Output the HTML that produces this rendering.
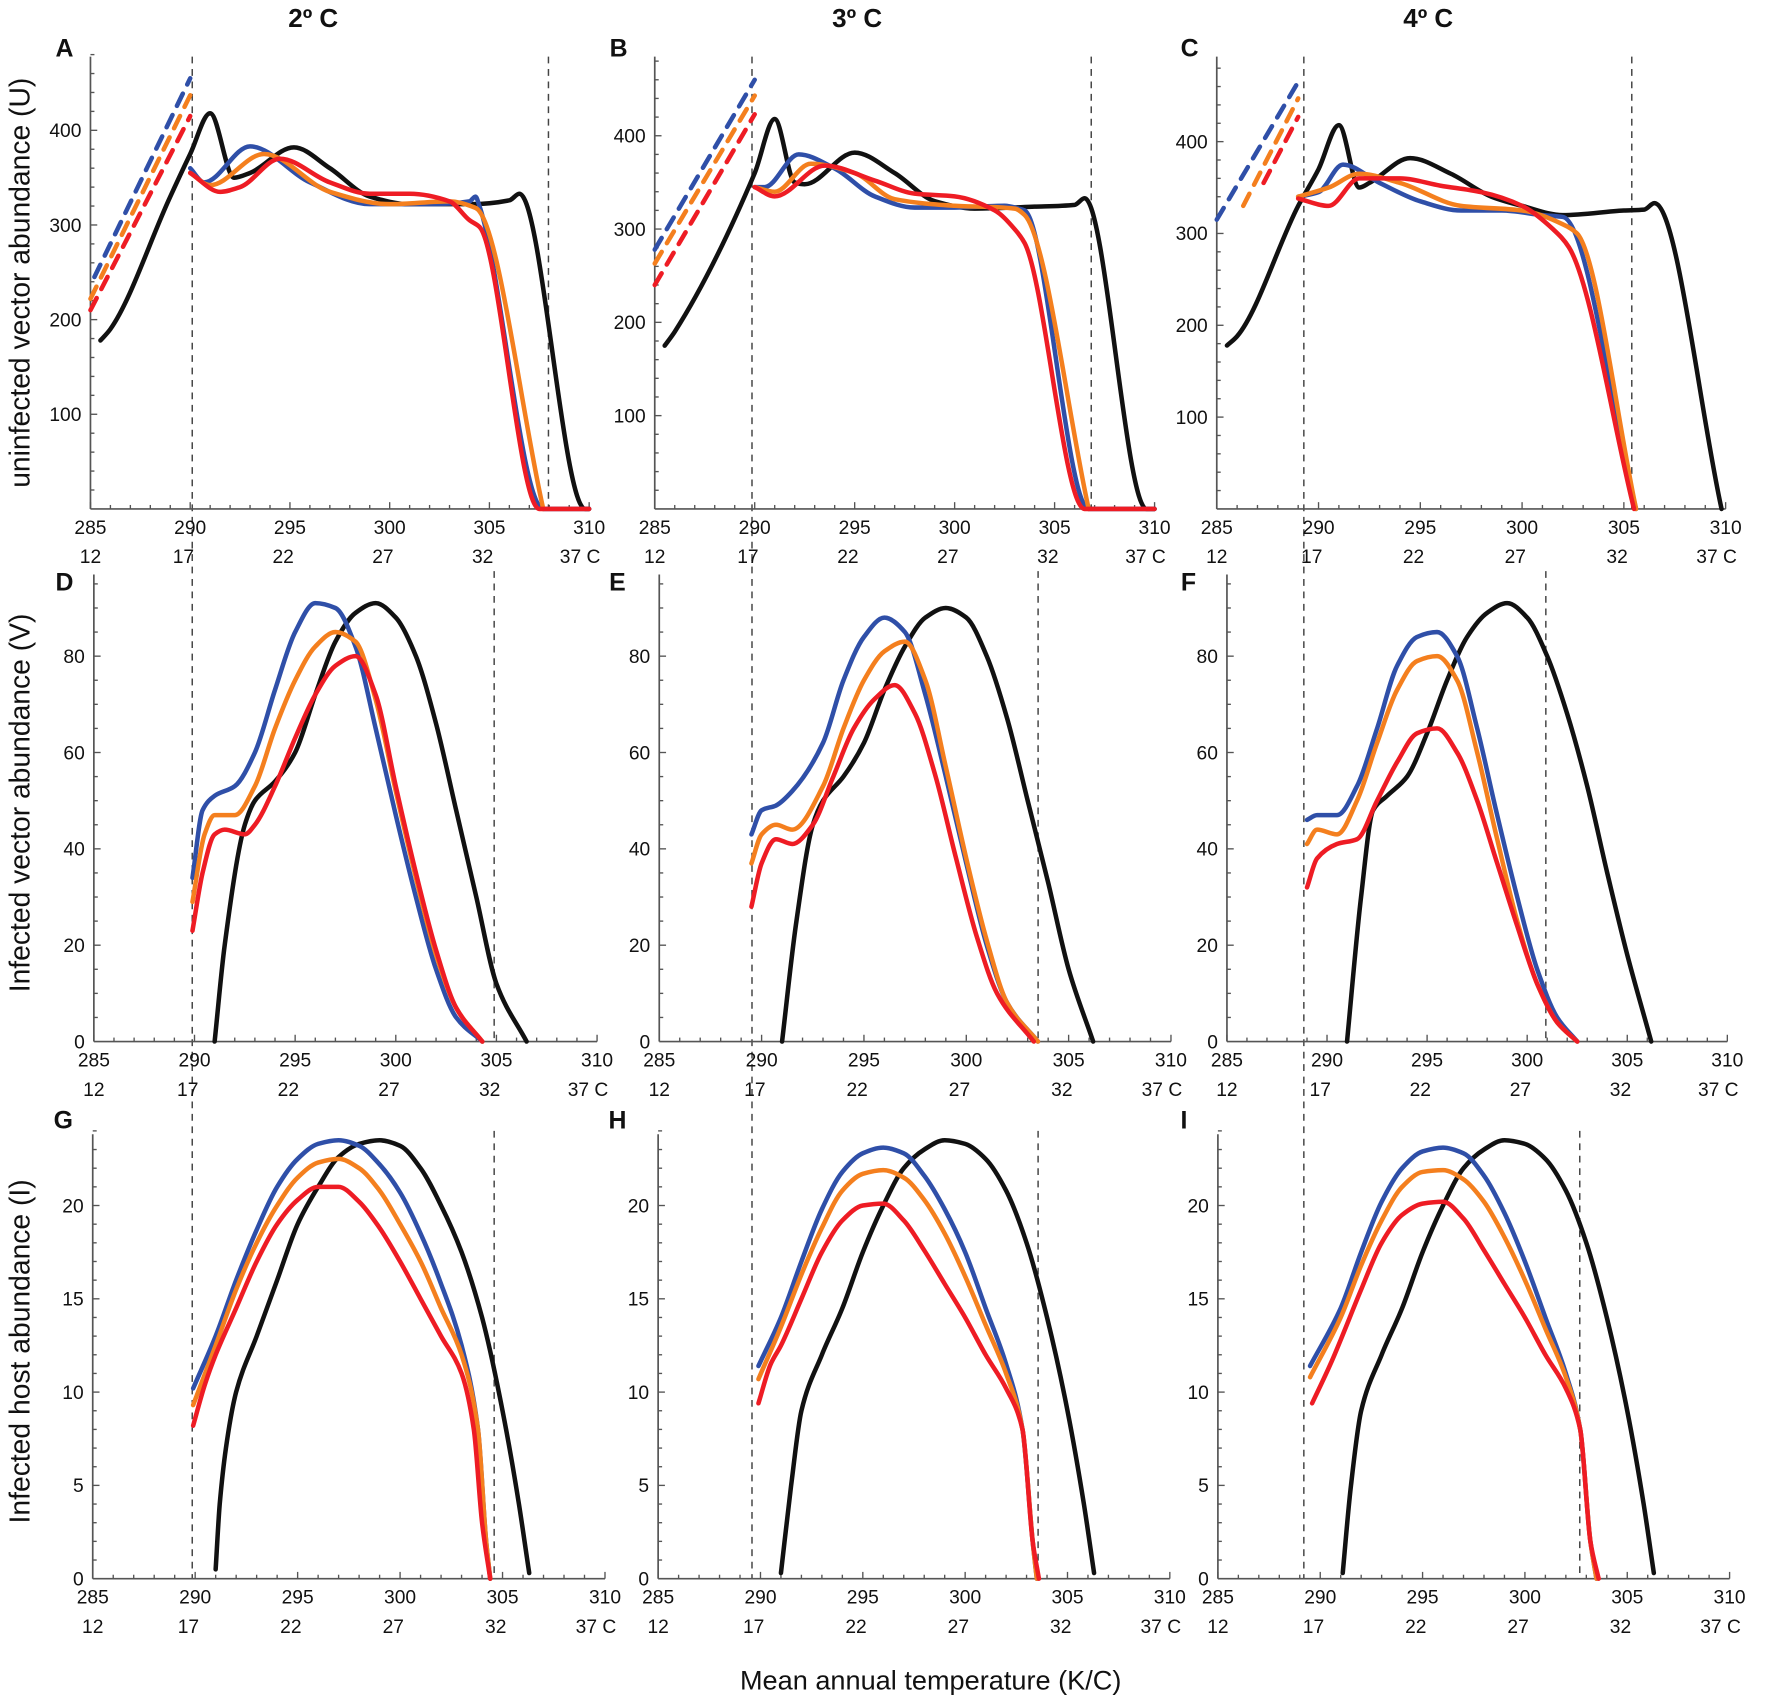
<!DOCTYPE html>
<html><head><meta charset="utf-8"><style>
html,body{margin:0;padding:0;background:#fff;}
svg{display:block;font-family:"Liberation Sans",Arial,sans-serif;}
</style></head><body>
<svg id="chart" width="1772" height="1702" viewBox="0 0 1567 1505" xmlns="http://www.w3.org/2000/svg">
<g id="layer"></g>
</svg>
<script>
// ---- data (temperature K, value) ----
const A_black=[[285.5,178],[286,190],[289,330],[290,375],[291,418],[292.2,350],[293,355],[295.2,382],[297,360],[299,330],[301,322],[304,322],[306,326],[306.5,333],[309.8,0],[310,0]];
const A_blue_dot=[[285.2,245],[290,455]];
const A_blue=[[290,360],[290.7,345],[293,383],[296,345],[299,322],[302,322],[304,325],[304.3,330],[304.5,320],[307.7,0],[310,0]];
const A_orange_dot=[[285,222],[290,437]];
const A_orange=[[290,355],[291,342],[293.7,375],[297,335],[300,322],[303,325],[304.3,318],[307.7,0]];
const A_red_dot=[[285,210],[290,415]];
const A_red=[[290,355],[291.5,335],[292.5,340],[294.5,370],[297,345],[299,333],[301,333],[303,325],[304,305],[304.5,298],[307.5,0],[310,0]];

const B_black=[[285.5,175],[286,190],[290,360],[291,418],[292,350],[292.5,348],[295,382],[297,360],[299,330],[301,322],[304,324],[306,326],[306.5,333],[309.6,0],[310,0]];
const B_blue_dot=[[285,278],[290,460]];
const B_blue=[[290,345],[290.5,345],[292.2,380],[294,365],[296,335],[298,323],[300,323],[302.5,325],[303.2,322],[303.5,320],[306.7,0],[310,0]];
const B_orange_dot=[[285,263],[290,443]];
const B_orange=[[290,345],[291,340],[292.8,370],[295,360],[297,332],[300,325],[303,322],[303.5,315],[306.7,0]];
const B_red_dot=[[285,240],[290,423]];
const B_red=[[290,345],[291,335],[293.5,368],[296,352],[298,338],[300,335],[302,320],[303,300],[303.5,285],[306.5,0],[310,0]];

const C_black=[[285.5,178],[286,188],[289,330],[290,370],[291,418],[292,350],[292.5,355],[294.5,382],[296.5,365],[298.5,340],[300,330],[302,320],[305,325],[306,326],[306.5,333],[309.8,0]];
const C_blue_dot=[[285,315],[289,465]];
const C_blue=[[289,340],[290,345],[291.2,375],[293,355],[295,335],[297,325],[299,325],[301,320],[302,318],[305.6,0]];
const C_orange_dot=[[286.3,330],[289,447]];
const C_orange=[[289,340],[290.5,350],[292,365],[294,355],[297,330],[300,325],[302,310],[302.7,300],[305.6,0]];
const C_red_dot=[[287.3,355],[289,427]];
const C_red=[[289,338],[290.5,330],[292,360],[294,360],[296,352],[298,345],[300,330],[301.5,305],[302.3,285],[305.5,0]];

const D_black=[[291,0],[291.5,20],[292.5,45],[293,50],[294,54],[295,60],[296,72],[297,83],[298,89],[299,91],[300,88],[301,80],[302,66],[303,48],[304,30],[305,12],[306.5,0]];
const D_blue=[[289.9,34],[290.4,48],[291,51],[292,53],[293,60],[294,73],[295,85],[296,91],[297,90],[298,82],[299,65],[300,47],[301,30],[302,15],[303,5],[304.3,0]];
const D_orange=[[289.9,29],[290.5,43],[291,47],[292,47],[293,53],[294,65],[295,75],[296,82],[297,85],[298,83],[299,71],[300,52],[301,34],[302,18],[303,7],[304.3,0]];
const D_red=[[289.9,23],[290.4,35],[291,43],[291.5,44],[292.5,43],[293,45],[294,53],[295,63],[296,72],[297,78],[298,80],[299,72],[300,53],[301,35],[302,19],[303,7],[304.3,0]];

const E_black=[[291,0],[291.7,25],[292.5,45],[293,50],[294,55],[295,62],[296,73],[297,82],[298,88],[299,90],[300,88],[301,80],[302,67],[303,50],[304,33],[305,15],[306.2,0]];
const E_blue=[[289.5,43],[290,48],[290.7,49],[291.5,52],[293,62],[294,75],[295,84],[296,88],[297,85],[298,72],[299,55],[300,37],[301,20],[302,8],[303.5,0]];
const E_orange=[[289.5,37],[290,43],[290.7,45],[291.5,44],[293,53],[294,65],[295,75],[296,81],[297,83],[298,75],[299,57],[300,38],[301,21],[302,8],[303.5,0]];
const E_red=[[289.5,28],[290,37],[290.7,42],[291.5,41],[292.5,45],[293.5,55],[294.5,65],[295.5,71],[296.5,74],[297.5,68],[298.5,55],[299.5,38],[300.5,22],[301.5,10],[303.3,0]];

const F_black=[[291,0],[291.7,30],[292.3,48],[293,51],[294,55],[295,64],[296,75],[297,84],[298,89],[299,91],[300,88],[301,80],[302,68],[303,53],[304,35],[305,18],[306.2,0]];
const F_blue=[[289,46],[289.5,47],[290.5,47],[291.5,53],[292.5,65],[293.5,78],[294.5,84],[295.5,85],[296.5,80],[297.5,65],[298.5,47],[299.5,30],[300.5,15],[301.5,5],[302.5,0]];
const F_orange=[[289,41],[289.5,44],[290.5,43],[291.5,50],[292.5,62],[293.5,73],[294.5,79],[295.5,80],[296.5,75],[297.5,60],[298.5,42],[299.5,25],[300.5,12],[301.5,4],[302.5,0]];
const F_red=[[289,32],[289.5,38],[290.5,41],[291.5,42],[292.5,50],[293.5,58],[294.5,64],[295.5,65],[296.5,60],[297.5,50],[298.5,37],[299.5,24],[300.5,12],[301.5,4],[302.5,0]];

const G_black=[[291,0.5],[291.2,4],[291.5,7],[292,10],[293,13],[294,16],[295,19],[296,21],[297,22.6],[298,23.3],[299,23.5],[300,23.2],[301,22],[302,20],[303,17.5],[304,14],[305,9],[305.8,4],[306.3,0.3]];
const G_blue=[[289.9,10.2],[291,13],[292,16],[293,18.7],[294,21],[295,22.5],[296,23.3],[297,23.5],[298,23.2],[299,22.2],[300,20.7],[301,18.5],[302,15.8],[303,12.5],[303.8,8],[304.2,2],[304.4,0]];
const G_orange=[[289.9,9.3],[291,12.5],[292,15.5],[293,18],[294,20],[295,21.5],[296,22.3],[297,22.5],[298,22],[299,20.8],[300,19],[301,17],[302,14.5],[303,12],[303.8,8],[304.2,2],[304.4,0]];
const G_red=[[289.9,8.2],[290.5,10.5],[291,12],[292,14.5],[293,17],[294,19],[295,20.3],[296,21],[297,21],[298,20.2],[299,18.8],[300,17],[301,15],[302,13],[303,11],[303.6,8],[304,3],[304.4,0]];

const H_black=[[291,0.3],[291.5,5],[292,9],[293,12],[294,14.5],[295,17.5],[296,20],[297,22],[298,23],[299,23.5],[300,23.3],[301,22.5],[302,20.8],[303,18],[304,14],[305,9],[305.8,4],[306.3,0.3]];
const H_blue=[[289.9,11.4],[291,14],[292,17],[293,19.8],[294,21.8],[295,22.8],[296,23.1],[297,22.8],[298,21.6],[299,19.8],[300,17.5],[301,14.5],[302,11.5],[302.8,8],[303.3,2],[303.5,0]];
const H_orange=[[289.9,10.7],[291,13.5],[292,16.3],[293,18.8],[294,20.8],[295,21.7],[296,21.9],[297,21.5],[298,20.3],[299,18.5],[300,16.2],[301,13.6],[302,11],[302.8,8],[303.3,2],[303.5,0]];
const H_red=[[289.9,9.4],[290.5,11.5],[291,12.5],[292,15],[293,17.5],[294,19.2],[295,20],[296,20.1],[297,19.2],[298,17.6],[299,15.8],[300,14],[301,12],[302,10.2],[302.8,8],[303.3,2],[303.6,0]];

const I_black=[[291.1,0.3],[291.5,5],[292,9],[293,12],[294,14.5],[295,17.5],[296,20],[297,22],[298,23],[299,23.5],[300,23.3],[301,22.5],[302,20.8],[303,18],[304,14],[305,9],[305.8,4],[306.3,0.3]];
const I_blue=[[289.5,11.4],[291,14.5],[292,17.5],[293,20.2],[294,22],[295,22.9],[296,23.1],[297,22.8],[298,21.6],[299,19.6],[300,17],[301,14],[302,11],[302.7,8],[303.2,2],[303.5,0]];
const I_orange=[[289.5,10.8],[291,14],[292,16.8],[293,19.2],[294,21],[295,21.8],[296,21.9],[297,21.4],[298,20.2],[299,18.3],[300,16],[301,13.4],[302,10.8],[302.7,8],[303.2,2],[303.5,0]];
const I_red=[[289.6,9.4],[290.5,11.5],[291,12.8],[292,15.5],[293,18],[294,19.5],[295,20.1],[296,20.2],[297,19.3],[298,17.6],[299,15.8],[300,14],[301,12],[302,10.2],[302.7,8],[303.2,2],[303.6,0]];

const kTicks=[285,290,295,300,305,310];
const cTicks=["12","17","22","27","32","37 C"];
const uTicks=[100,200,300,400];
const vTicks=[0,20,40,60,80];
const iTicks=[0,5,10,15,20];
const colTitles=["2º C","3º C","4º C"];
const rowTitles=["uninfected vector abundance (U)","Infected vector abundance (V)","Infected host abundance (I)"];

// ---- layout ----
const NS="http://www.w3.org/2000/svg";
const layer=document.getElementById('layer');
const COL={black:"#111",blue:"#2f4fa8",orange:"#f47f1e",red:"#ee1c24"};
const panels=[
 {id:"A",x0:80,kx:17.64,y0:450,ky:0.837,top:50,ymax:480,yt:uTicks,minor:20,ser:{black:A_black,blue:A_blue,orange:A_orange,red:A_red},dots:{blue:A_blue_dot,orange:A_orange_dot,red:A_red_dot},lx:57,ly:50,dash2:485,d2top:50},
 {id:"B",x0:579,kx:17.68,y0:450,ky:0.825,top:50,ymax:485,yt:uTicks,minor:20,ser:{black:B_black,blue:B_blue,orange:B_orange,red:B_red},dots:{blue:B_blue_dot,orange:B_orange_dot,red:B_red_dot},lx:547,ly:50,dash2:965,d2top:50},
 {id:"C",x0:1076,kx:18,y0:450,ky:0.812,top:50,ymax:490,yt:uTicks,minor:20,ser:{black:C_black,blue:C_blue,orange:C_orange,red:C_red},dots:{blue:C_blue_dot,orange:C_orange_dot,red:C_red_dot},lx:1052,ly:50,dash2:1443,d2top:50},
 {id:"D",x0:83,kx:17.8,y0:921,ky:4.26,top:508,ymax:96,yt:vTicks,minor:5,ser:{black:D_black,blue:D_blue,orange:D_orange,red:D_red},lx:57,ly:522,dash2:437,d2top:505},
 {id:"E",x0:583,kx:18.1,y0:921,ky:4.26,top:508,ymax:96,yt:vTicks,minor:5,ser:{black:E_black,blue:E_blue,orange:E_orange,red:E_red},lx:546,ly:522,dash2:918,d2top:505},
 {id:"F",x0:1085,kx:17.7,y0:921,ky:4.26,top:508,ymax:96,yt:vTicks,minor:5,ser:{black:F_black,blue:F_blue,orange:F_orange,red:F_red},lx:1051,ly:522,dash2:1367,d2top:505},
 {id:"G",x0:82,kx:18.12,y0:1396,ky:16.5,top:1003,ymax:24,yt:iTicks,minor:1,ser:{black:G_black,blue:G_blue,orange:G_orange,red:G_red},lx:56,ly:998,dash2:437,d2top:1000},
 {id:"H",x0:582,kx:18.1,y0:1396,ky:16.5,top:1003,ymax:24,yt:iTicks,minor:1,ser:{black:H_black,blue:H_blue,orange:H_orange,red:H_red},lx:546,ly:998,dash2:918,d2top:1000},
 {id:"I",x0:1077,kx:18.1,y0:1396,ky:16.5,top:1003,ymax:24,yt:iTicks,minor:1,ser:{black:I_black,blue:I_blue,orange:I_orange,red:I_red},lx:1047,ly:998,dash2:1397,d2top:1000}
];
function mk(tag,attrs,parent){const e=document.createElementNS(NS,tag);for(const k in attrs)e.setAttribute(k,attrs[k]);(parent||layer).appendChild(e);return e;}
// monotone cubic (Fritsch-Carlson) - no overshoot
function smooth(pts){
 const n=pts.length;
 if(n<3){return "M"+pts.map(p=>p[0].toFixed(1)+","+p[1].toFixed(1)).join(" L");}
 const dx=[],s=[];
 for(let i=0;i<n-1;i++){dx[i]=pts[i+1][0]-pts[i][0];s[i]=(pts[i+1][1]-pts[i][1])/dx[i];}
 const m=[s[0]];
 for(let i=1;i<n-1;i++){
  if(s[i-1]*s[i]<=0)m[i]=0;
  else{const w1=2*dx[i]+dx[i-1],w2=dx[i]+2*dx[i-1];m[i]=(w1+w2)/(w1/s[i-1]+w2/s[i]);}
 }
 m[n-1]=s[n-2];
 let d="M"+pts[0][0].toFixed(1)+","+pts[0][1].toFixed(1);
 for(let i=0;i<n-1;i++){
  const h=dx[i]/3;
  d+=" C"+(pts[i][0]+h).toFixed(1)+","+(pts[i][1]+m[i]*h).toFixed(1)+" "+(pts[i+1][0]-h).toFixed(1)+","+(pts[i+1][1]-m[i+1]*h).toFixed(1)+" "+pts[i+1][0].toFixed(1)+","+pts[i+1][1].toFixed(1);
 }
 return d;
}
colTitles.forEach((t,i)=>{
 const e=mk('text',{x:[277,758,1263][i],y:24,'text-anchor':'middle','font-size':23,'font-weight':'bold',fill:'#111'});
 
 
 e.textContent=t;
});
rowTitles.forEach((t,i)=>{
 const cy=[250,710,1195][i];
 const e=mk('text',{x:0,y:0,transform:`translate(26,${cy}) rotate(-90)`,'text-anchor':'middle','font-size':25,fill:'#111'});
 
 
 e.textContent=t;
});
const xt=mk('text',{x:823,y:1494,'text-anchor':'middle','font-size':24,fill:'#111'});


xt.textContent="Mean annual temperature (K/C)";

[170,665,1153].forEach((x,i)=>{
 const l=mk('line',{x1:x,x2:x,y1:50,y2:1396,stroke:'#444','stroke-width':1.3,'stroke-dasharray':'6 5'});
 
 
});

panels.forEach(p=>{
 const g=mk('g',{});
 
 
 const X=t=>p.x0+(t-285)*p.kx, Y=v=>p.y0-v*p.ky;
 mk('line',{x1:X(285),x2:X(310),y1:p.y0,y2:p.y0,stroke:'#555','stroke-width':1.5},g);
 mk('line',{x1:X(285),x2:X(285),y1:p.top,y2:p.y0,stroke:'#555','stroke-width':1.5},g);
 for(let k=285;k<=310;k++){const mj=k%5===0;mk('line',{x1:X(k),x2:X(k),y1:p.y0,y2:p.y0-(mj?6:3.5),stroke:'#555','stroke-width':1.2},g);}
 for(let v=p.minor;v<=p.ymax;v+=p.minor){const mj=p.yt.includes(v);mk('line',{x1:X(285),x2:X(285)+(mj?6:3.5),y1:Y(v),y2:Y(v),stroke:'#555','stroke-width':1.2},g);}
 kTicks.forEach((k,i)=>{
  const a=mk('text',{x:X(k),y:p.y0+22,'text-anchor':'middle','font-size':17,fill:'#111'},g);
  
  
  a.textContent=k;
  const b=mk('text',{x:X(k)-(i===0?0:i===5?8:6),y:p.y0+48,'text-anchor':'middle','font-size':17,fill:'#111'},g);
  
  
  b.textContent=cTicks[i];
 });
 p.yt.forEach(v=>{
  const a=mk('text',{x:X(285)-8,y:Y(v)+6,'text-anchor':'end','font-size':17,fill:'#111'},g);
  
  
  a.textContent=v;
 });
 const lab=mk('text',{x:p.lx,y:p.ly,'text-anchor':'middle','font-size':22,'font-weight':'bold',fill:'#111'},g);
 
 
 lab.textContent=p.id;
 const dl=mk('line',{x1:p.dash2,x2:p.dash2,y1:p.d2top,y2:p.y0,stroke:'#444','stroke-width':1.3,'stroke-dasharray':'6 5'},g);
 
 
 ['black','blue','orange','red'].forEach(c=>{
  if(p.dots&&p.dots[c]){
   const pts=p.dots[c].map(q=>[X(q[0]),Y(q[1])]);
   const dd=mk('path',{d:smooth(pts),fill:'none',stroke:COL[c],'stroke-width':4,'stroke-dasharray':'12 9','stroke-linecap':'round'},g);
   
   
  }
  const pts=p.ser[c].map(q=>[X(q[0]),Y(q[1])]);
  const path=mk('path',{d:smooth(pts),fill:'none',stroke:COL[c],'stroke-width':4,'stroke-linejoin':'round','stroke-linecap':'round'},g);
  
  
 });
});
</script>
</body></html>
